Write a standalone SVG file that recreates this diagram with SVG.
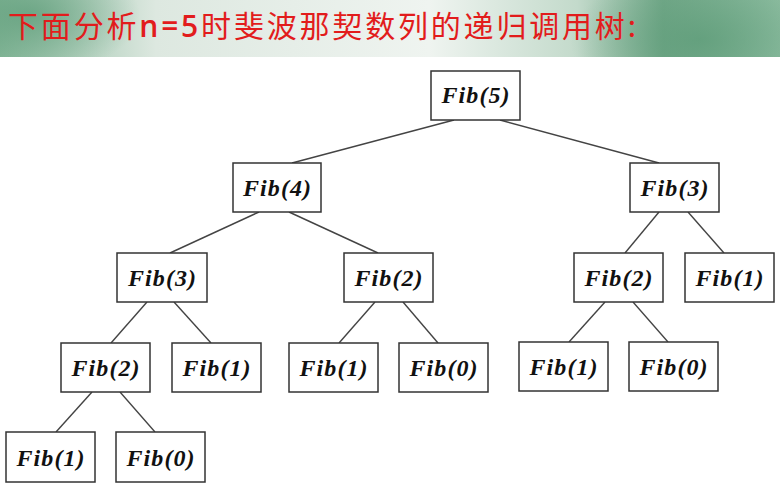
<svg xmlns="http://www.w3.org/2000/svg" width="780" height="491" viewBox="0 0 780 491">
<defs>
<linearGradient id="band" x1="0" y1="0" x2="1" y2="0">
<stop offset="0" stop-color="#86b89a"/>
<stop offset="0.2" stop-color="#dde8e0"/>
<stop offset="0.55" stop-color="#eff4f0"/>
<stop offset="0.74" stop-color="#c3dacb"/>
<stop offset="0.85" stop-color="#74a98a"/>
<stop offset="1" stop-color="#8fbea2"/>
</linearGradient>
<radialGradient id="blobL" cx="0.5" cy="0.5" r="0.5">
<stop offset="0" stop-color="#5f9d7a" stop-opacity="0.75"/>
<stop offset="1" stop-color="#5f9d7a" stop-opacity="0"/>
</radialGradient>
<radialGradient id="blobR" cx="0.5" cy="0.5" r="0.5">
<stop offset="0" stop-color="#5a9a76" stop-opacity="0.7"/>
<stop offset="1" stop-color="#5a9a76" stop-opacity="0"/>
</radialGradient>
<clipPath id="bandClip"><rect x="0" y="0" width="780" height="57"/></clipPath>
</defs>
<style>
.node rect{fill:#ffffff;stroke:#333333;stroke-width:1.5}
.node text{font-family:"Liberation Serif","DejaVu Serif",serif;font-weight:bold;font-style:italic;font-size:24px;fill:#111111;text-anchor:middle}
#edges line{stroke:#444444;stroke-width:1.4}
.title{font-family:"Noto Sans CJK SC","Noto Sans",sans-serif;font-size:30px;fill:#e21c1c}
</style>
<rect x="0" y="0" width="780" height="491" fill="#ffffff"/>
<g clip-path="url(#bandClip)">
<rect x="0" y="0" width="780" height="57" fill="url(#band)"/>
<ellipse cx="30" cy="15" rx="110" ry="60" fill="url(#blobL)"/>
<ellipse cx="700" cy="40" rx="130" ry="70" fill="url(#blobR)"/>
</g>
<text class="title" x="8" y="37" textLength="628" lengthAdjust="spacing">下面分析<tspan font-family="'Open Sans','Noto Sans',sans-serif" font-weight="600">n=5</tspan>时斐波那契数列的递归调用树:</text>
<g id="edges">
<line x1="454" y1="120" x2="292" y2="163"/>
<line x1="500" y1="120" x2="659" y2="163"/>
<line x1="259" y1="212" x2="170" y2="253"/>
<line x1="289" y1="212" x2="378" y2="253"/>
<line x1="659" y1="212" x2="625" y2="253"/>
<line x1="688" y1="212" x2="724" y2="253"/>
<line x1="147" y1="302" x2="111" y2="343"/>
<line x1="174" y1="302" x2="211" y2="343"/>
<line x1="375" y1="302" x2="339" y2="343"/>
<line x1="403" y1="302" x2="438" y2="343"/>
<line x1="605" y1="302" x2="569" y2="342"/>
<line x1="633" y1="302" x2="668" y2="342"/>
<line x1="92" y1="392" x2="56" y2="432"/>
<line x1="120" y1="392" x2="155" y2="432"/>
</g>
<g id="fib5" class="node"><rect x="431" y="71" width="89" height="49"/><text x="475.5" y="103" textLength="68" lengthAdjust="spacing">Fib(5)</text></g>
<g id="fib4" class="node"><rect x="233" y="163" width="88" height="49"/><text x="277" y="196" textLength="68" lengthAdjust="spacing">Fib(4)</text></g>
<g id="fib3r" class="node"><rect x="630" y="163" width="89" height="49"/><text x="674.5" y="196" textLength="68" lengthAdjust="spacing">Fib(3)</text></g>
<g id="fib3l" class="node"><rect x="117" y="253" width="90" height="49"/><text x="162" y="286" textLength="68" lengthAdjust="spacing">Fib(3)</text></g>
<g id="fib2m" class="node"><rect x="344" y="253" width="89" height="49"/><text x="388.5" y="286" textLength="68" lengthAdjust="spacing">Fib(2)</text></g>
<g id="fib2r" class="node"><rect x="574" y="253" width="89" height="49"/><text x="618.5" y="286" textLength="68" lengthAdjust="spacing">Fib(2)</text></g>
<g id="fib1r" class="node"><rect x="685" y="253" width="89" height="49"/><text x="729.5" y="286" textLength="68" lengthAdjust="spacing">Fib(1)</text></g>
<g id="fib2l" class="node"><rect x="61" y="343" width="89" height="49"/><text x="105.5" y="376" textLength="68" lengthAdjust="spacing">Fib(2)</text></g>
<g id="fib1a" class="node"><rect x="172" y="343" width="89" height="49"/><text x="216.5" y="376" textLength="68" lengthAdjust="spacing">Fib(1)</text></g>
<g id="fib1b" class="node"><rect x="289" y="343" width="89" height="49"/><text x="333.5" y="376" textLength="68" lengthAdjust="spacing">Fib(1)</text></g>
<g id="fib0b" class="node"><rect x="399" y="343" width="89" height="49"/><text x="443.5" y="376" textLength="68" lengthAdjust="spacing">Fib(0)</text></g>
<g id="fib1c" class="node"><rect x="519" y="342" width="89" height="49"/><text x="563.5" y="375" textLength="68" lengthAdjust="spacing">Fib(1)</text></g>
<g id="fib0c" class="node"><rect x="629" y="342" width="89" height="49"/><text x="673.5" y="375" textLength="68" lengthAdjust="spacing">Fib(0)</text></g>
<g id="fib1d" class="node"><rect x="6" y="432" width="89" height="50"/><text x="50.5" y="466" textLength="68" lengthAdjust="spacing">Fib(1)</text></g>
<g id="fib0d" class="node"><rect x="116" y="432" width="89" height="50"/><text x="160.5" y="466" textLength="68" lengthAdjust="spacing">Fib(0)</text></g>
</svg>
